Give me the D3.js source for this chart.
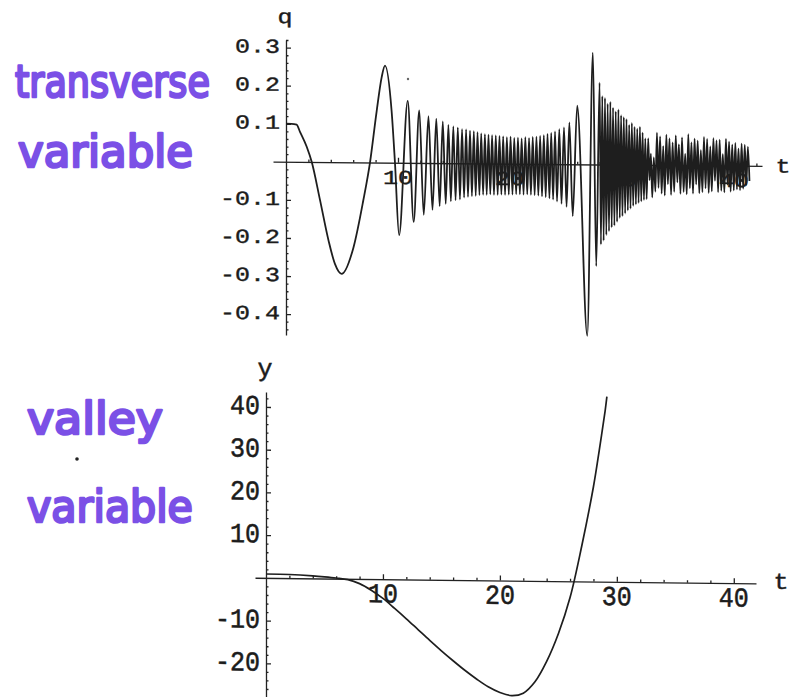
<!DOCTYPE html>
<html lang="en">
<head>
  <meta charset="UTF-8">
  <title>transverse and valley variable</title>
  <style>
    body { margin: 0; background: #fff; }
    svg { display: block; }
    .lbl { font-family: 'Liberation Mono', 'DejaVu Sans Mono', monospace; font-size: 25px; fill: #1c1c1c; stroke: #1c1c1c; stroke-width: 0.5; }
    .hand { font-family: 'DejaVu Sans', sans-serif; fill: #7b50e6; stroke: #7b50e6; stroke-width: 2.6; stroke-linejoin: round; stroke-linecap: round; }
  </style>
</head>
<body>
  <script src="https://d3js.org/d3.v7.min.js"></script>
  <div id="chart"></div>

  <script>
    // transverse variable q(t) ===============================================
    // slow start: [t, q]
    const qStart = [
      [0, 0.1], [0.5, 0.1], [0.95, 0.098], [1.25, 0.079], [1.85, 0.04], [2.3, 0],
      [3.04, -0.1], [3.8, -0.206], [4.37, -0.267], [4.97, -0.293], [6.02, -0.224],
      [6.9, -0.1], [7.5, 0], [8.1, 0.136], [8.54, 0.224], [8.84, 0.255]
    ]
    // chirp, peaks and troughs
    const qChirp = [
      [9.43, 0.136], [9.73, 0], [10.1, -0.19], [10.87, 0.163], [11.4, -0.155], [11.9, 0.138],
      [12.3, -0.136], [12.72, 0.123], [13.08, -0.123], [13.42, 0.117], [13.72, -0.113],
      [14.0, 0.11], [14.26, -0.107], [14.5, 0.101], [14.72, -0.1], [14.94, 0.097],
      [15.14, -0.097], [15.34, 0.094], [15.53, -0.095], [15.72, 0.09], [15.9, -0.09],
      [16.08, 0.089], [16.25, -0.088], [16.43, 0.086], [16.6, -0.086], [16.77, 0.085],
      [16.94, -0.085], [17.1, 0.082], [17.27, -0.083], [17.43, 0.079], [17.6, -0.082],
      [17.76, 0.077], [17.92, -0.082], [18.08, 0.076], [18.24, -0.081]
    ]
    const qSteady = [
      [18.4, 0.075], [18.57, -0.082], [18.73, 0.074], [18.9, -0.082], [19.06, 0.073],
      [19.23, -0.081], [19.39, 0.072], [19.56, -0.082], [19.72, 0.07], [19.89, -0.081],
      [20.05, 0.071], [20.22, -0.081], [20.38, 0.068], [20.55, -0.08], [20.71, 0.069],
      [20.88, -0.08], [21.04, 0.067], [21.21, -0.081], [21.37, 0.07], [21.54, -0.08],
      [21.7, 0.068], [21.87, -0.081], [22.03, 0.071], [22.2, -0.082], [22.36, 0.072],
      [22.53, -0.083], [22.69, 0.074], [22.86, -0.085], [23.02, 0.076], [23.19, -0.087],
      [23.35, 0.079], [23.52, -0.09], [23.68, 0.082], [23.85, -0.093], [24.02, 0.086],
      [24.2, -0.098], [24.4, 0.092], [24.6, -0.104], [24.82, 0.097], [25.05, -0.112],
      [25.3, 0.11], [25.6, -0.136], [26.0, 0.154], [26.9, -0.45], [27.4, 0.294],
      [27.7, -0.267], [28.0, 0.215]
    ]
    const qBurst = [
      [28.12, -0.21], [28.24, 0.18], [28.36, -0.2], [28.48, 0.175], [28.6, -0.185],
      [28.72, 0.16], [28.84, -0.175], [28.96, 0.165], [29.08, -0.165], [29.2, 0.15],
      [29.32, -0.16], [29.44, 0.14], [29.56, -0.15], [29.68, 0.145], [29.8, -0.14],
      [29.92, 0.13], [30.04, -0.135], [30.16, 0.125], [30.28, -0.128], [30.4, 0.12],
      [30.52, -0.12], [30.64, 0.105], [30.76, -0.115], [30.88, 0.11], [31.0, -0.108],
      [31.12, 0.1], [31.24, -0.104], [31.36, 0.095], [31.48, -0.1], [31.6, 0.1],
      [31.72, -0.096], [31.84, 0.085], [31.96, -0.092], [32.08, 0.07], [32.2, -0.09]
    ]
    const qTail = [
      [32.34, 0.07], [32.46, -0.04], [32.58, 0.03], [32.7, -0.085], [32.84, 0.02],
      [32.98, -0.07], [33.12, 0.085], [33.26, -0.06], [33.4, 0.075], [33.54, -0.075],
      [33.68, 0.05], [33.82, -0.08], [33.96, 0.08], [34.1, -0.05], [34.24, 0.07],
      [34.38, -0.078], [34.52, 0.06], [34.66, -0.07], [34.8, 0.078], [34.94, -0.045],
      [35.08, 0.055], [35.22, -0.075], [35.36, 0.073], [35.5, -0.07], [35.64, 0.03],
      [35.78, -0.076], [35.92, 0.082], [36.06, -0.06], [36.2, 0.06], [36.34, -0.074],
      [36.48, 0.07], [36.62, -0.05], [36.76, 0.065], [36.9, -0.073], [37.04, 0.04],
      [37.18, -0.07], [37.32, 0.075], [37.46, -0.06], [37.6, 0.07], [37.74, -0.072],
      [37.88, 0.05], [38.02, -0.068], [38.16, 0.072], [38.3, -0.04], [38.44, 0.066],
      [38.58, -0.07], [38.72, 0.068], [38.86, -0.066], [39.0, 0.03], [39.14, -0.07],
      [39.28, 0.07], [39.42, -0.05], [39.56, 0.063], [39.7, -0.068], [39.84, 0.055],
      [39.98, -0.065], [40.12, 0.06], [40.26, -0.062], [40.4, 0.045], [40.54, -0.064],
      [40.68, 0.058], [40.82, -0.06], [40.96, 0.055], [41.1, -0.05], [41.24, 0.05],
      [41.38, -0.04]
    ]
    const qTicks = [-0.4, -0.3, -0.2, -0.1, 0.1, 0.2, 0.3]
    const tTicksTop = [10, 20, 30, 40]

    // valley variable y(t) ===================================================
    const yValley = [
      [0, 0.9], [2, 0.85], [4, 0.6], [5, 0.4], [6, 0.15], [7, -0.2], [8, -1.1], [9, -2.6],
      [10, -4.5], [11, -6.8], [12, -9.2], [13, -11.7], [14, -14.2], [15, -16.6], [16, -18.9],
      [17, -21.1], [18, -23.1], [19, -24.9], [20, -26.2], [21, -26.9], [22, -26.3],
      [23, -23.6], [24, -18.8], [25, -12.3], [26, -3.8], [27, 8.3], [28, 22.2],
      [28.5, 30.8], [29, 40], [29.15, 43.3]
    ]
    const yTicks = [-20, -10, 10, 20, 30, 40]
    const tTicksBot = [10, 20, 30, 40]

    const qData = [...qStart, ...qChirp, ...qSteady, ...qBurst, ...qTail]

    const svg = d3.select('#chart')
      .append('svg')
      .attr('width', 789)
      .attr('height', 697)

    // the scan is a little sheared, so skew each plot round its origin
    const skewAbout = (ox, oy, a) => `translate(${ox},${oy}) skewY(${a}) translate(${-ox},${-oy})`

    function drawAxes(g, x, y, xMaj, xMin, yMaj, yMin) {
      g.append('g')
        .attr('transform', `translate(0,${y(0)})`)
        .call(d3.axisBottom(x).tickValues(xMaj).tickSize(-5).tickSizeOuter(0).tickFormat(''))
      g.append('g')
        .attr('transform', `translate(0,${y(0)})`)
        .call(d3.axisBottom(x).tickValues(xMin).tickSize(-2.5).tickFormat(''))
        .call(a => a.select('.domain').remove())
      g.append('g')
        .attr('transform', `translate(${x(0)},0)`)
        .call(d3.axisLeft(y).tickValues(yMaj).tickSize(-5).tickSizeOuter(0).tickFormat(''))
      g.append('g')
        .attr('transform', `translate(${x(0)},0)`)
        .call(d3.axisLeft(y).tickValues(yMin).tickSize(-2.5).tickFormat(''))
        .call(a => a.select('.domain').remove())
      g.selectAll('.domain, .tick line')
        .attr('stroke', '#222')
        .attr('stroke-width', 1.3)
    }

    function drawLabels(g, vals, fmt, px, py, anchor, sy) {
      g.append('g')
        .selectAll('text')
        .data(vals)
        .join('text')
        .attr('class', 'lbl')
        .attr('text-anchor', anchor)
        .attr('dominant-baseline', 'central')
        .attr('transform', d => `translate(${px(d)},${py(d)}) scale(1,${sy})`)
        .text(fmt)
    }

    // top plot ===============================================================
    const xTop = d3.scaleLinear().domain([-1.16, 42.5]).range([273, 762])
    const yTop = d3.scaleLinear().domain([-0.455, 0.32]).range([335, 40])

    const topPlot = svg.append('g')
      .attr('transform', skewAbout(xTop(0), yTop(0), 0.5))

    drawAxes(topPlot, xTop, yTop, tTicksTop, d3.range(2, 43, 2).filter(d => d % 10),
      qTicks, d3.range(-0.44, 0.33, 0.02).filter(d => Math.abs(d * 10 - Math.round(d * 10)) > 0.01))

    drawLabels(topPlot, qTicks, d => d.toFixed(1), d => xTop(0) - 6, d => yTop(d), 'end', 0.8)
    drawLabels(topPlot, tTicksTop, d => d, d => xTop(d), d => yTop(0) + 16, 'middle', 0.8)

    topPlot.append('text').attr('class', 'lbl').attr('text-anchor', 'middle')
      .attr('transform', `translate(${xTop(0) - 1},${yTop(0.32) - 17}) scale(1,0.8)`).text('q')
    topPlot.append('text').attr('class', 'lbl').attr('text-anchor', 'middle')
      .attr('dominant-baseline', 'central')
      .attr('transform', `translate(${xTop(42.5) + 21},${yTop(0) + 1}) scale(1,0.8)`).text('t')

    topPlot.append('path')
      .datum(qData)
      .attr('fill', 'none')
      .attr('stroke', '#1e1e1e')
      .attr('stroke-width', 1.8)
      .attr('stroke-linejoin', 'round')
      .attr('d', d3.line().x(d => xTop(d[0])).y(d => yTop(d[1])).curve(d3.curveMonotoneX))

    // bottom plot ============================================================
    const xBot = d3.scaleLinear().domain([-0.94, 41.9]).range([255, 756])
    const yBot = d3.scaleLinear().domain([-28, 43.5]).range([697.5, 392])

    const botPlot = svg.append('g')
      .attr('transform', skewAbout(xBot(0), yBot(0), 0.65))

    drawAxes(botPlot, xBot, yBot, tTicksBot, d3.range(2, 42, 2).filter(d => d % 10),
      yTicks, d3.range(-26, 43, 2).filter(d => d % 10))

    drawLabels(botPlot, yTicks, d => d, d => xBot(0) - 6, d => yBot(d), 'end', 1.1)
    drawLabels(botPlot, tTicksBot, d => d, d => xBot(d), d => yBot(0) + 16, 'middle', 1.1)

    botPlot.append('text').attr('class', 'lbl').attr('text-anchor', 'middle')
      .attr('transform', `translate(${xBot(0) - 1},${yBot(43.5) - 16})`).text('y')
    botPlot.append('text').attr('class', 'lbl').attr('text-anchor', 'middle')
      .attr('dominant-baseline', 'central')
      .attr('transform', `translate(${xBot(41.9) + 25},${yBot(0) - 1}) scale(1,0.9)`).text('t')

    botPlot.append('path')
      .datum(yValley)
      .attr('fill', 'none')
      .attr('stroke', '#1e1e1e')
      .attr('stroke-width', 1.7)
      .attr('d', d3.line().x(d => xBot(d[0])).y(d => yBot(d[1])).curve(d3.curveCatmullRom.alpha(0.5)))

    // handwritten notes ======================================================
    const notes = [
      {text: 'transverse', x: 15, y: 97, w: 195},
      {text: 'variable', x: 18, y: 167, w: 175},
      {text: 'valley', x: 27, y: 434, w: 136},
      {text: 'variable', x: 27, y: 522, w: 166}
    ]
    svg.selectAll('.hand')
      .data(notes)
      .join('text')
      .attr('class', 'hand')
      .attr('font-size', 44)
      .text(d => d.text)
      .attr('transform', function (d) {
        const sx = d.w / this.getComputedTextLength()
        return `translate(${d.x},${d.y}) scale(${sx},1)`
      })

    // pen specks from the scan
    svg.append('circle').attr('cx', 77).attr('cy', 459).attr('r', 1.8).attr('fill', '#222')
    svg.append('circle').attr('cx', 408).attr('cy', 79).attr('r', 1.2).attr('fill', '#666')
  </script>
</body>
</html>
